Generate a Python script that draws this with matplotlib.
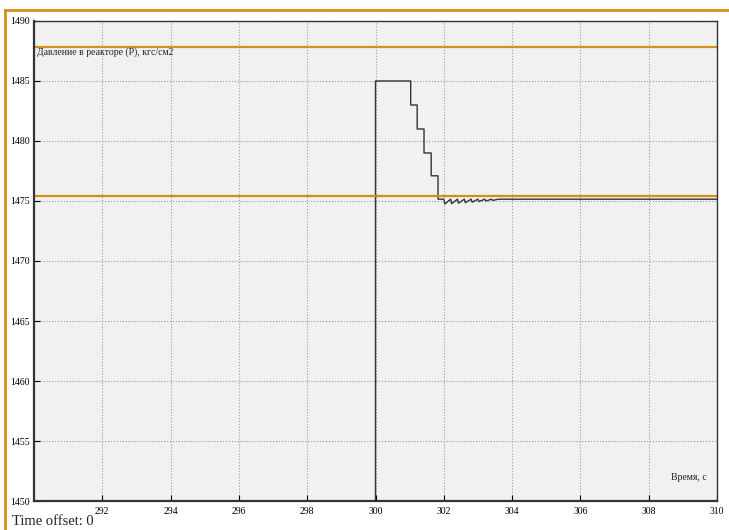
import numpy as np
import matplotlib
matplotlib.use("Agg")
import matplotlib.pyplot as plt
from matplotlib.lines import Line2D

# ── data ─────────────────────────────────────────────────────────────────────
t_signal = [290, 300.0, 300.0, 301.03, 301.03, 301.22, 301.22, 301.42, 301.42,
            301.63, 301.63, 301.83, 301.83,
            302.0, 302.03, 302.2, 302.23, 302.4, 302.43, 302.6, 302.63,
            302.8, 302.83, 303.0, 303.03, 303.2, 303.23, 303.4, 303.43,
            303.6, 310]
p_signal = [1450, 1450, 1485, 1485, 1483, 1483, 1481, 1481, 1479,
            1479, 1477.1, 1477.1, 1475.15,
            1475.15, 1474.75, 1475.15, 1474.78, 1475.15, 1474.82, 1475.15,
            1474.86, 1475.15, 1474.9, 1475.15, 1474.95, 1475.15, 1475.0,
            1475.15, 1475.05, 1475.15, 1475.15]
limit_high = 1487.8
limit_low = 1475.4

x_ticks = [292, 294, 296, 298, 300, 302, 304, 306, 308, 310]
y_ticks = [1450, 1455, 1460, 1465, 1470, 1475, 1480, 1485, 1490]

ORANGE = "#d18f1e"
SERIF = ["Liberation Serif", "DejaVu Serif"]

fig = plt.figure(figsize=(7.29, 5.30), dpi=100)
fig.patch.set_facecolor("white")
ax = fig.add_axes([0.0466, 0.0547, 0.937, 0.9057])
ax.set_facecolor("#f1f1f1")

ax.plot(t_signal, p_signal, color="#333333", lw=1.0)
ax.axhline(limit_high, color=ORANGE, lw=1.6)
ax.axhline(limit_low, color=ORANGE, lw=1.6)

ax.set_xlim(290, 310)
ax.set_ylim(1450, 1490)
ax.set_xticks(x_ticks)
ax.set_yticks(y_ticks)
ax.grid(True, color="#9a9a9a", ls=":", lw=0.8)
ax.tick_params(direction="in", length=4, labelsize=7, pad=3)
ax.tick_params(axis="x", pad=4)
for lbl in ax.get_xticklabels() + ax.get_yticklabels():
    lbl.set_family(SERIF)
for side, spine in ax.spines.items():
    spine.set_color("#333333")
    spine.set_linewidth(1.6 if side in ("left", "bottom") else 1.0)

ax.text(0.005, 0.935, "Давление в реакторе (P), кгс/см2", transform=ax.transAxes,
        fontsize=7, family=SERIF, color="#222222", va="center")
ax.text(0.985, 0.04, "Время, с", transform=ax.transAxes,
        fontsize=7, family=SERIF, color="#222222", ha="right", va="bottom")
fig.text(0.016, 0.01, "Time offset: 0", fontsize=10.5, family=SERIF,
         color="#222222")

# orange frame of the screenshot
fig.add_artist(Line2D([0.007, 1.0], [0.981, 0.981], transform=fig.transFigure,
                      color=ORANGE, lw=2))
fig.add_artist(Line2D([0.007, 0.007], [0.0, 0.981], transform=fig.transFigure,
                      color=ORANGE, lw=2))

fig.savefig("out.png", dpi=100, facecolor=fig.get_facecolor())
